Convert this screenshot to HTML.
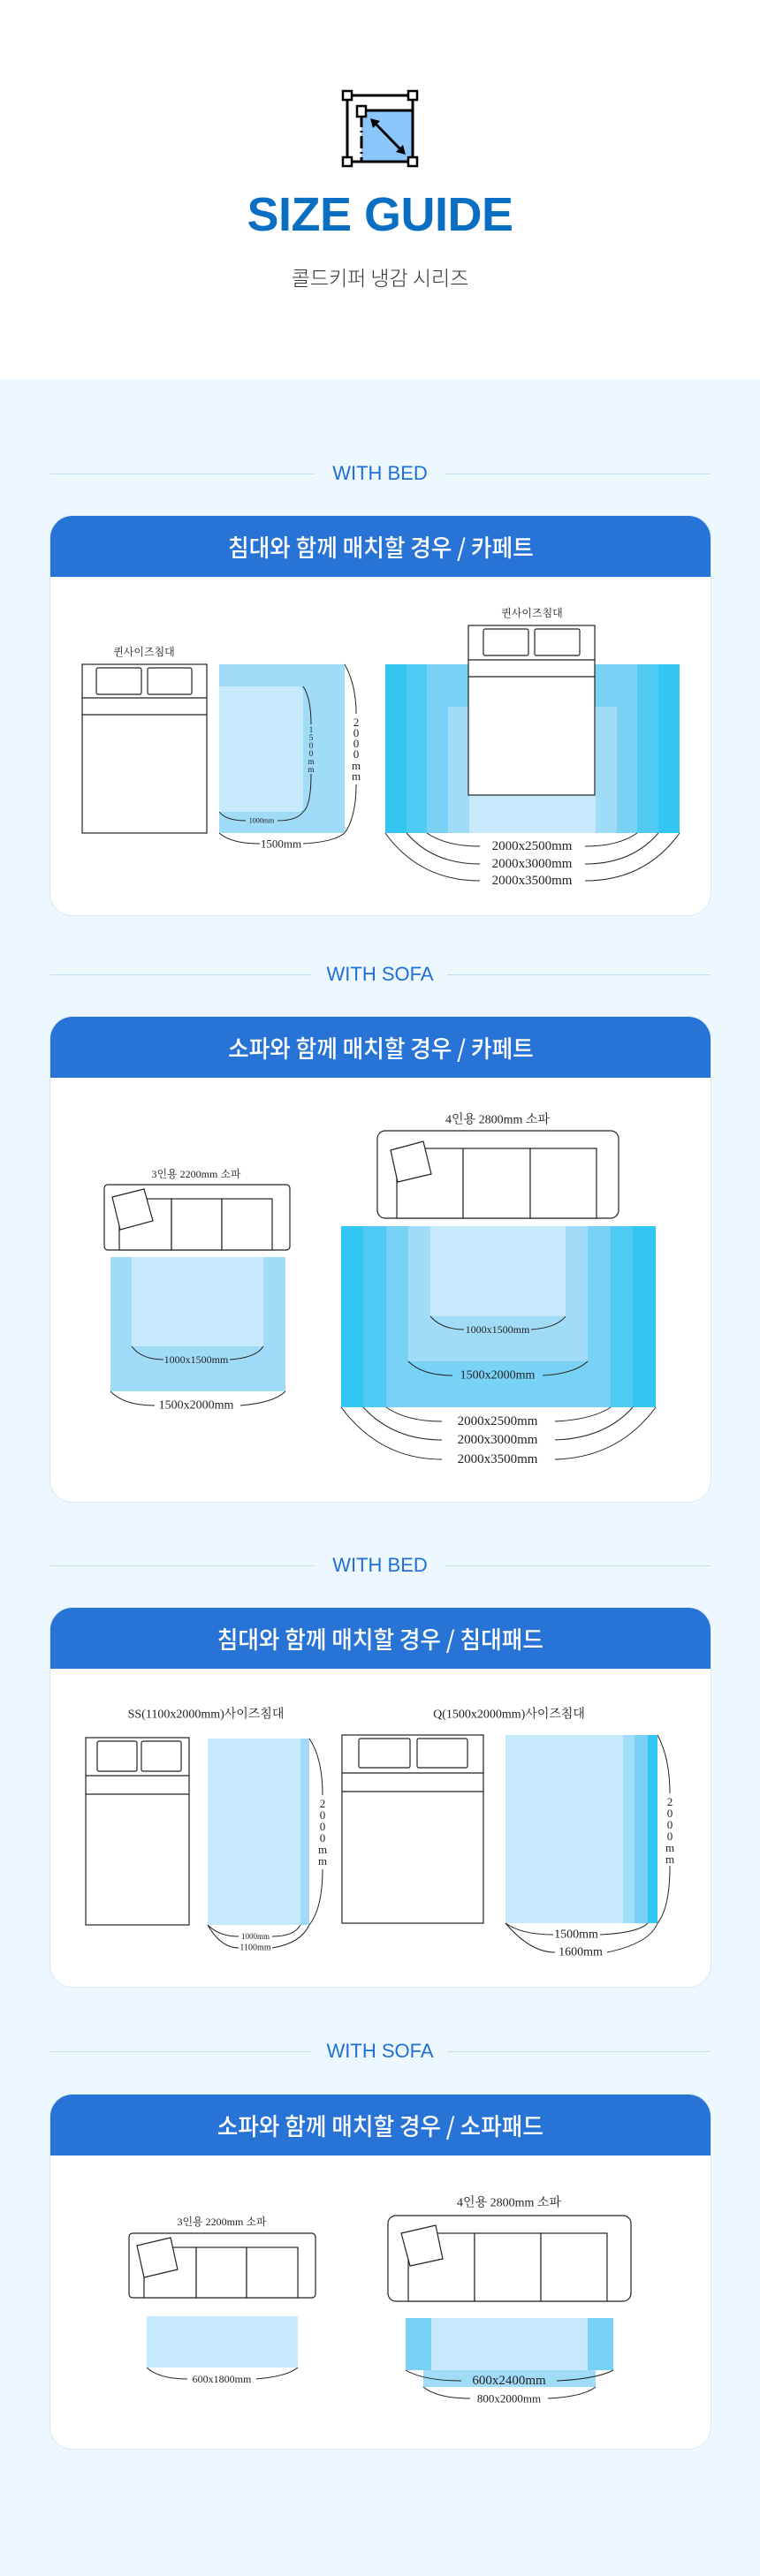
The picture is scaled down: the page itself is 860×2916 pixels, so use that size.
<!DOCTYPE html>
<html><head><meta charset="utf-8">
<style>
html,body{margin:0;padding:0}
body{width:860px;height:2916px;position:relative;background:#edf7fe;overflow:hidden;font-family:"Liberation Sans","Noto Sans CJK KR",sans-serif}
.top{position:absolute;left:0;top:0;width:860px;height:429px;background:#fff}
.title{position:absolute;left:0;width:860px;top:212px;text-align:center;font-size:54px;font-weight:bold;color:#0a6fc2;letter-spacing:-0.5px}
.sub{position:absolute;left:0;width:860px;top:297px;text-align:center;font-size:23px;font-weight:300;color:#333;font-family:"Noto Sans CJK KR",sans-serif;line-height:32px}
.with{position:absolute;left:0;width:860px;text-align:center;font-size:22px;color:#1f6fd6;font-weight:500;line-height:26px}
.line{position:absolute;height:1px;background:#c3dcef}
.card{position:absolute;left:56px;width:749px;background:#fff;border-radius:26px;border:1px solid #d9e9f5;box-sizing:border-box;overflow:hidden}
.hd{height:69px;background:#2874d6;color:#fff;text-align:center;line-height:69px;font-family:"Noto Sans CJK KR",sans-serif;font-size:27px;font-weight:500}
.hd span{display:inline-block;transform:scaleX(0.95)}
svg{position:absolute;left:0;top:0}
</style></head><body>
<div class="top"></div>
<div class="title">SIZE GUIDE</div>
<div class="sub">콜드키퍼 냉감 시리즈</div>

<div class="line" style="left:57px;width:298px;top:536px"></div><div class="line" style="left:503px;width:301px;top:536px"></div>
<div class="with" style="top:523px">WITH BED</div>
<div class="line" style="left:57px;width:296px;top:1103px"></div><div class="line" style="left:506px;width:298px;top:1103px"></div>
<div class="with" style="top:1090px">WITH SOFA</div>
<div class="line" style="left:57px;width:298px;top:1772px"></div><div class="line" style="left:503px;width:301px;top:1772px"></div>
<div class="with" style="top:1759px">WITH BED</div>
<div class="line" style="left:57px;width:296px;top:2322px"></div><div class="line" style="left:506px;width:298px;top:2322px"></div>
<div class="with" style="top:2309px">WITH SOFA</div>

<div class="card" style="top:583px;height:454px"><div class="hd"><span>침대와 함께 매치할 경우 / 카페트</span></div></div>
<div class="card" style="top:1150px;height:551px"><div class="hd"><span>소파와 함께 매치할 경우 / 카페트</span></div></div>
<div class="card" style="top:1819px;height:431px"><div class="hd"><span>침대와 함께 매치할 경우 / 침대패드</span></div></div>
<div class="card" style="top:2370px;height:403px"><div class="hd"><span>소파와 함께 매치할 경우 / 소파패드</span></div></div>

<svg width="860" height="2916" viewBox="0 0 860 2916" font-family="'Liberation Serif','Noto Serif CJK KR',serif" fill="none" stroke="none">
<!-- icon -->
<rect x="409" y="125" width="58" height="58" fill="#8ac6fa"/>
<rect x="393" y="108" width="74" height="75" stroke="#000" stroke-width="3"/>
<line x1="409" y1="130" x2="409" y2="183" stroke="#000" stroke-width="3" stroke-dasharray="14 4 2 4"/>
<line x1="409" y1="125" x2="467" y2="125" stroke="#000" stroke-width="3"/>
<g fill="#fff" stroke="#000" stroke-width="2.5">
<rect x="388" y="103" width="10" height="10"/><rect x="462" y="103" width="10" height="10"/>
<rect x="388" y="178" width="10" height="10"/><rect x="462" y="178" width="10" height="10"/>
<rect x="404" y="120" width="10" height="12"/>
</g>
<line x1="422" y1="137" x2="456" y2="172" stroke="#000" stroke-width="3"/>
<path d="M419,134 L430,137 L422,145 Z M459,175 L448,172 L456,164 Z" fill="#000"/>

<g stroke="#222" stroke-width="1.2" fill="none">
<rect x="93" y="752" width="141" height="191" fill="#fff"/>
<line x1="93" y1="790" x2="234" y2="790"/><line x1="93" y1="809" x2="234" y2="809"/>
<rect x="109" y="756" width="51" height="30" rx="2"/><rect x="167" y="756" width="50" height="30" rx="2"/>
</g>
<text x="163" y="738" font-size="12" fill="#222" text-anchor="middle" dominant-baseline="central">퀸사이즈침대</text>
<rect x="248" y="752" width="142" height="191" fill="#a0dcf7"/>
<path d="M248,777 H336 Q343,777 343,785 V912 Q343,919 336,919 H248 Z" fill="#c6e9fb"/>
<g stroke="#222" stroke-width="1" fill="none">
<path d="M343,777 Q352,790 352,820"/><path d="M352,876 Q352,912 343,919"/>
<path d="M248,919 Q256,929 278,929"/><path d="M314,929 Q336,929 343,919"/>
<path d="M390,752 Q403,775 403,808"/><path d="M403,888 Q403,925 390,943"/>
<path d="M248,943 Q262,955 294,955"/><path d="M343,955 Q378,953 390,943"/>
</g>
<text x="296" y="929" font-size="8" fill="#222" text-anchor="middle" dominant-baseline="central">1000mm</text>
<text x="318" y="955" font-size="13" fill="#222" text-anchor="middle" dominant-baseline="central">1500mm</text>
<g font-size="9" fill="#222" text-anchor="middle">
<text x="352" y="829">1</text><text x="352" y="838">5</text><text x="352" y="847">0</text><text x="352" y="856">0</text><text x="352" y="865">m</text><text x="352" y="874">m</text>
</g>
<g font-size="13" fill="#222" text-anchor="middle">
<text x="403" y="822">2</text><text x="403" y="834">0</text><text x="403" y="846">0</text><text x="403" y="858">0</text><text x="403" y="871">m</text><text x="403" y="883">m</text>
</g>
<rect x="436" y="752" width="333" height="191" fill="#33c6f2"/>
<rect x="460" y="752" width="285" height="191" fill="#4ecaf3"/>
<rect x="483" y="752" width="238" height="191" fill="#78d2f5"/>
<rect x="507" y="800" width="191" height="143" fill="#a0dcf7"/>
<rect x="531" y="800" width="143" height="143" fill="#c6e9fb"/>
<g stroke="#222" stroke-width="1.2" fill="none">
<rect x="530" y="708" width="143" height="192" fill="#fff"/>
<line x1="530" y1="747" x2="673" y2="747"/><line x1="530" y1="766" x2="673" y2="766"/>
<rect x="547" y="712" width="51" height="30" rx="2"/><rect x="605" y="712" width="51" height="30" rx="2"/>
</g>
<text x="602" y="694" font-size="12" fill="#222" text-anchor="middle" dominant-baseline="central">퀸사이즈침대</text>
<g stroke="#222" stroke-width="1" fill="none">
<path d="M483,943 Q505,958 543,958"/><path d="M662,958 Q700,958 721,943"/>
<path d="M460,943 Q490,978 543,978"/><path d="M662,978 Q715,978 745,943"/>
<path d="M436,943 Q475,997 543,997"/><path d="M662,997 Q730,997 769,943"/>
</g>
<g font-size="15" fill="#222" text-anchor="middle" dominant-baseline="central">
<text x="602" y="958">2000x2500mm</text><text x="602" y="978">2000x3000mm</text><text x="602" y="997">2000x3500mm</text>
</g>

<text x="222" y="1329" font-size="12" fill="#222" text-anchor="middle" dominant-baseline="central">3인용 2200mm 소파</text>
<g stroke="#222" stroke-width="1.2" fill="#fff">
<rect x="118" y="1341" width="210" height="74" rx="4"/>
<rect x="135" y="1357" width="59" height="58"/><rect x="194" y="1357" width="57" height="58"/><rect x="251" y="1357" width="57" height="58"/>
<path d="M127,1355 L163,1346 L173,1382 L136,1392 Z"/>
</g>
<rect x="125" y="1423" width="198" height="152" fill="#a0dcf7"/>
<rect x="149" y="1423" width="149" height="101" fill="#c6e9fb"/>
<g stroke="#222" stroke-width="1" fill="none">
<path d="M149,1524 Q160,1539 185,1539"/><path d="M260,1539 Q290,1537 298,1524"/>
<path d="M125,1575 Q140,1591 175,1591"/><path d="M272,1591 Q310,1588 323,1575"/>
</g>
<text x="222" y="1539" font-size="12" fill="#222" text-anchor="middle" dominant-baseline="central">1000x1500mm</text>
<text x="222" y="1591" font-size="14" fill="#222" text-anchor="middle" dominant-baseline="central">1500x2000mm</text>

<text x="563" y="1268" font-size="14" fill="#222" text-anchor="middle" dominant-baseline="central">4인용 2800mm 소파</text>
<g stroke="#222" stroke-width="1.2" fill="#fff">
<rect x="427" y="1280" width="273" height="99" rx="9"/>
<rect x="449" y="1300" width="75" height="79"/><rect x="524" y="1300" width="76" height="79"/><rect x="600" y="1300" width="75" height="79"/>
<path d="M442,1302 L479,1292 L488,1329 L450,1338 Z"/>
</g>
<rect x="386" y="1388" width="356" height="205" fill="#33c6f2"/>
<rect x="411" y="1388" width="305" height="205" fill="#4ecaf3"/>
<rect x="437" y="1388" width="254" height="205" fill="#78d2f5"/>
<rect x="462" y="1388" width="203" height="153" fill="#a0dcf7"/>
<rect x="487" y="1388" width="153" height="102" fill="#c6e9fb"/>
<g stroke="#222" stroke-width="1" fill="none">
<path d="M487,1490 Q500,1505 525,1505"/><path d="M601,1505 Q630,1503 640,1490"/>
<path d="M462,1541 Q478,1557 512,1557"/><path d="M614,1557 Q650,1555 665,1541"/>
<path d="M437,1593 Q460,1609 500,1609"/><path d="M628,1609 Q670,1607 691,1593"/>
<path d="M411,1593 Q445,1630 500,1630"/><path d="M628,1630 Q685,1628 716,1593"/>
<path d="M386,1593 Q430,1652 500,1652"/><path d="M628,1652 Q700,1650 742,1593"/>
</g>
<g fill="#222" text-anchor="middle" dominant-baseline="central">
<text x="563" y="1505" font-size="12">1000x1500mm</text>
<text x="563" y="1557" font-size="14">1500x2000mm</text>
<text x="563" y="1609" font-size="15">2000x2500mm</text>
<text x="563" y="1630" font-size="15">2000x3000mm</text>
<text x="563" y="1652" font-size="15">2000x3500mm</text>
</g>

<g fill="#222" text-anchor="middle" dominant-baseline="central" font-size="14">
<text x="233" y="1941">SS(1100x2000mm)사이즈침대</text>
<text x="576" y="1941">Q(1500x2000mm)사이즈침대</text>
</g>
<g stroke="#222" stroke-width="1.2" fill="none">
<rect x="97" y="1967" width="117" height="212" fill="#fff"/>
<line x1="97" y1="2010" x2="214" y2="2010"/><line x1="97" y1="2031" x2="214" y2="2031"/>
<rect x="110" y="1971" width="45" height="34" rx="2"/><rect x="160" y="1971" width="45" height="34" rx="2"/>
<rect x="387" y="1964" width="160" height="213" fill="#fff"/>
<line x1="387" y1="2007" x2="547" y2="2007"/><line x1="387" y1="2028" x2="547" y2="2028"/>
<rect x="406" y="1968" width="58" height="33" rx="2"/><rect x="472" y="1968" width="57" height="33" rx="2"/>
</g>
<rect x="235" y="1968" width="115" height="211" fill="#c6e9fb"/>
<rect x="340" y="1968" width="10" height="211" fill="#a0dcf7"/>
<rect x="572" y="1964" width="172" height="213" fill="#c6e9fb"/>
<rect x="705" y="1964" width="13" height="213" fill="#a0dcf7"/>
<rect x="718" y="1964" width="15" height="213" fill="#78d2f5"/>
<rect x="733" y="1964" width="11" height="213" fill="#33c6f2"/>
<g stroke="#222" stroke-width="1" fill="none">
<path d="M350,1968 Q365,1990 365,2032"/><path d="M365,2116 Q365,2160 350,2179"/>
<path d="M235,2179 Q248,2192 270,2192"/><path d="M308,2192 Q333,2192 340,2179"/>
<path d="M235,2179 Q250,2205 270,2205"/><path d="M308,2205 Q340,2200 350,2179"/>
<path d="M744,1964 Q758,1990 758,2030"/><path d="M758,2112 Q758,2160 744,2177"/>
<path d="M572,2177 Q590,2190 626,2190"/><path d="M679,2190 Q722,2188 733,2177"/>
<path d="M572,2177 Q600,2210 628,2210"/><path d="M687,2210 Q735,2200 744,2177"/>
</g>
<g fill="#222" text-anchor="middle" dominant-baseline="central">
<text x="289" y="2192" font-size="9">1000mm</text>
<text x="289" y="2205" font-size="10">1100mm</text>
<text x="652" y="2190" font-size="14">1500mm</text>
<text x="657" y="2210" font-size="14">1600mm</text>
</g>
<g font-size="13" fill="#222" text-anchor="middle">
<text x="365" y="2046">2</text><text x="365" y="2059">0</text><text x="365" y="2072">0</text><text x="365" y="2085">0</text><text x="365" y="2098">m</text><text x="365" y="2111">m</text>
<text x="758" y="2044">2</text><text x="758" y="2057">0</text><text x="758" y="2070">0</text><text x="758" y="2083">0</text><text x="758" y="2096">m</text><text x="758" y="2109">m</text>
</g>

<text x="251" y="2515" font-size="12" fill="#222" text-anchor="middle" dominant-baseline="central">3인용 2200mm 소파</text>
<g stroke="#222" stroke-width="1.2" fill="#fff">
<rect x="146" y="2528" width="211" height="73" rx="4"/>
<rect x="163" y="2544" width="59" height="57"/><rect x="222" y="2544" width="57" height="57"/><rect x="279" y="2544" width="58" height="57"/>
<path d="M155,2542 L193,2533 L201,2569 L163,2578 Z"/>
</g>
<rect x="166" y="2622" width="171" height="58" fill="#c6e9fb"/>
<g stroke="#222" stroke-width="1" fill="none">
<path d="M166,2680 Q180,2693 212,2693"/><path d="M290,2693 Q325,2690 337,2680"/>
</g>
<text x="251" y="2693" font-size="12" fill="#222" text-anchor="middle" dominant-baseline="central">600x1800mm</text>

<text x="576" y="2494" font-size="14" fill="#222" text-anchor="middle" dominant-baseline="central">4인용 2800mm 소파</text>
<g stroke="#222" stroke-width="1.2" fill="#fff">
<rect x="439" y="2508" width="275" height="97" rx="9"/>
<rect x="462" y="2528" width="75" height="77"/><rect x="537" y="2528" width="75" height="77"/><rect x="612" y="2528" width="75" height="77"/>
<path d="M454,2528 L493,2519 L501,2557 L464,2565 Z"/>
</g>
<rect x="479" y="2683" width="195" height="19" fill="#a0dcf7"/>
<rect x="459" y="2624" width="235" height="59" fill="#78d2f5"/>
<rect x="488" y="2624" width="177" height="59" fill="#c6e9fb"/>
<g stroke="#222" stroke-width="1" fill="none">
<path d="M459,2683 Q480,2695 522,2695"/><path d="M630,2695 Q675,2693 694,2683"/>
<path d="M479,2702 Q495,2715 532,2715"/><path d="M620,2715 Q660,2713 674,2702"/>
</g>
<g fill="#222" text-anchor="middle" dominant-baseline="central">
<text x="576" y="2695" font-size="15">600x2400mm</text>
<text x="576" y="2715" font-size="13">800x2000mm</text>
</g>
</svg>
</body></html>
